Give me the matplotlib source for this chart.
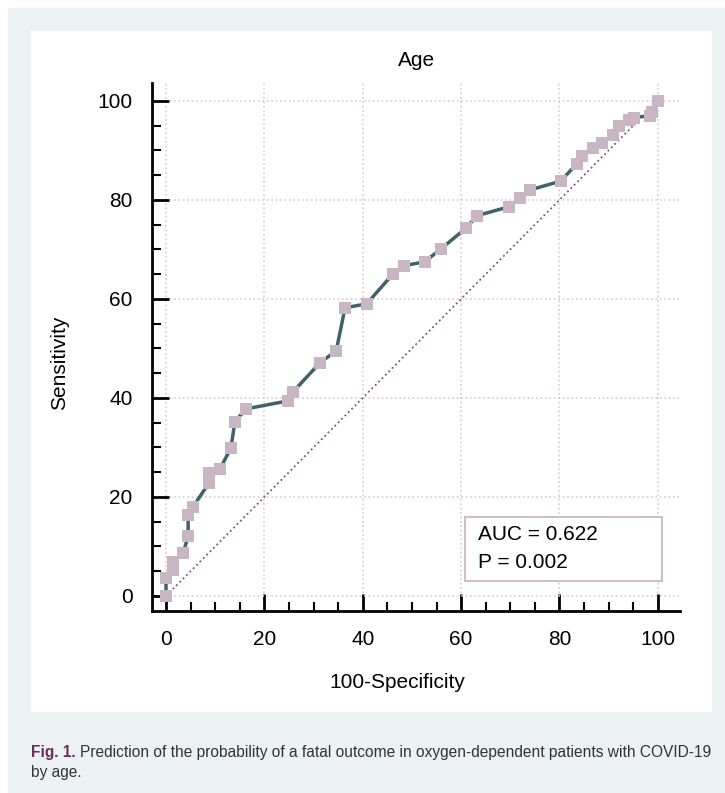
import matplotlib
matplotlib.use('Agg')
import matplotlib.pyplot as plt
from matplotlib.patches import Rectangle
from matplotlib import font_manager as fm
from matplotlib.ticker import MultipleLocator

# ROC points (100-Specificity, Sensitivity)
fpr = [0, 0, 1.4, 1.4, 3.5, 4.5, 4.5, 5.5, 8.7, 8.7, 11.0, 13.2, 14.0, 16.3,
       24.8, 25.8, 31.3, 34.6, 36.4, 40.8, 46.1, 48.4, 52.6, 55.9, 61.0, 63.2,
       69.7, 72.0, 74.0, 80.3, 83.5, 84.6, 86.8, 88.6, 90.9, 92.1, 94.1, 95.1,
       98.4, 98.8, 100]
tpr = [0, 3.6, 5.3, 6.9, 8.7, 12.1, 16.4, 18.0, 22.8, 24.8, 25.7, 29.9, 35.2,
       37.8, 39.4, 41.2, 47.1, 49.5, 58.2, 59.0, 65.0, 66.7, 67.5, 70.1, 74.3,
       76.8, 78.6, 80.4, 82.0, 83.8, 87.3, 88.9, 90.5, 91.5, 93.1, 94.9, 96.2,
       96.6, 97.0, 97.8, 100]
ref_x = [0, 100]
ref_y = [0, 100]
auc_lines = ["AUC = 0.622", "P = 0.002"]

names = {f.name for f in fm.fontManager.ttflist}
base = 'Liberation Sans' if 'Liberation Sans' in names else 'DejaVu Sans'
narrow = 'Liberation Sans Narrow' if 'Liberation Sans Narrow' in names else base
cap_size = 10.5 if narrow != base else 11.2
plt.rcParams['font.family'] = [base, 'DejaVu Sans']

W, H = 725, 793
fig = plt.figure(figsize=(W / 100, H / 100), dpi=100)
fig.patch.set_facecolor('white')

def px_rect(x0, y0, x1, y1, color):
    # rectangle in pixel coords measured from top-left
    fig.patches.append(Rectangle((x0 / W, 1 - y1 / H), (x1 - x0) / W, (y1 - y0) / H,
                                 transform=fig.transFigure, color=color, zorder=-10))

px_rect(8, 8, 725, 793, '#ECF1F4')
px_rect(31, 31, 711, 711, 'white')

# axes: spines at x=152..680, y=83..611 (pixels)
ax = fig.add_axes([152 / W, 1 - 611 / H, 528 / W, 528 / H])
ax.set_facecolor('none')
ax.set_xlim(-2.85, 104.5)
ax.set_ylim(-3.03, 103.6)

for s in ['top', 'right']:
    ax.spines[s].set_visible(False)
for s in ['left', 'bottom']:
    ax.spines[s].set_linewidth(2)
    ax.spines[s].set_color('black')

ax.xaxis.set_major_locator(MultipleLocator(20))
ax.xaxis.set_minor_locator(MultipleLocator(5))
ax.yaxis.set_major_locator(MultipleLocator(20))
ax.yaxis.set_minor_locator(MultipleLocator(5))
ax.tick_params(which='major', direction='in', length=12, width=2, pad=14,
               labelsize=15, color='black')
ax.tick_params(which='minor', direction='in', length=6.5, width=1.5, color='black')

ax.grid(True, which='major', color='#D9C9D4', linestyle=':', linewidth=1.2)
ax.set_axisbelow(True)

ax.plot(ref_x, ref_y, linestyle=':', color='#8A4F80', linewidth=1.3, zorder=2)
ax.plot(fpr, tpr, color='#41626B', linewidth=2.5, zorder=3,
        marker='s', markersize=8.6, markerfacecolor='#C8B6C4',
        markeredgecolor='#C8B6C4', markeredgewidth=0)

ax.add_patch(Rectangle((60.8, 3.0), 40.0, 13.0, facecolor='white',
                       edgecolor='#D0BDCB', linewidth=1.5, zorder=4))
ax.text(63.4, 12.5, auc_lines[0], fontsize=15, va='center', ha='left', zorder=5)
ax.text(63.4, 6.8, auc_lines[1], fontsize=15, va='center', ha='left', zorder=5)

fig.text(417 / W, 1 - 60 / H, 'Age', fontsize=15, ha='center', va='center')
fig.text(397 / W, 1 - 683 / H, '100-Specificity', fontsize=15, ha='center', va='center')
fig.text(60 / W, 1 - 363 / H, 'Sensitivity', fontsize=15, ha='center', va='center',
         rotation=90)

# caption
cap_y1 = 1 - 753 / H
cap_y2 = 1 - 773 / H
t1 = fig.text(31 / W, cap_y1, 'Fig. 1.', fontsize=cap_size, fontweight='bold',
              color='#6B2D5E', family=narrow, ha='left', va='center')
fig.canvas.draw()
bb = t1.get_window_extent()
fig.text((bb.x1 + 4) / W, cap_y1,
         'Prediction of the probability of a fatal outcome in oxygen-dependent patients with COVID-19',
         fontsize=cap_size, color='#333333', family=narrow, ha='left', va='center')
fig.text(31 / W, cap_y2, 'by age.', fontsize=cap_size, color='#333333', family=narrow,
         ha='left', va='center')

fig.savefig('out.png', dpi=100)
